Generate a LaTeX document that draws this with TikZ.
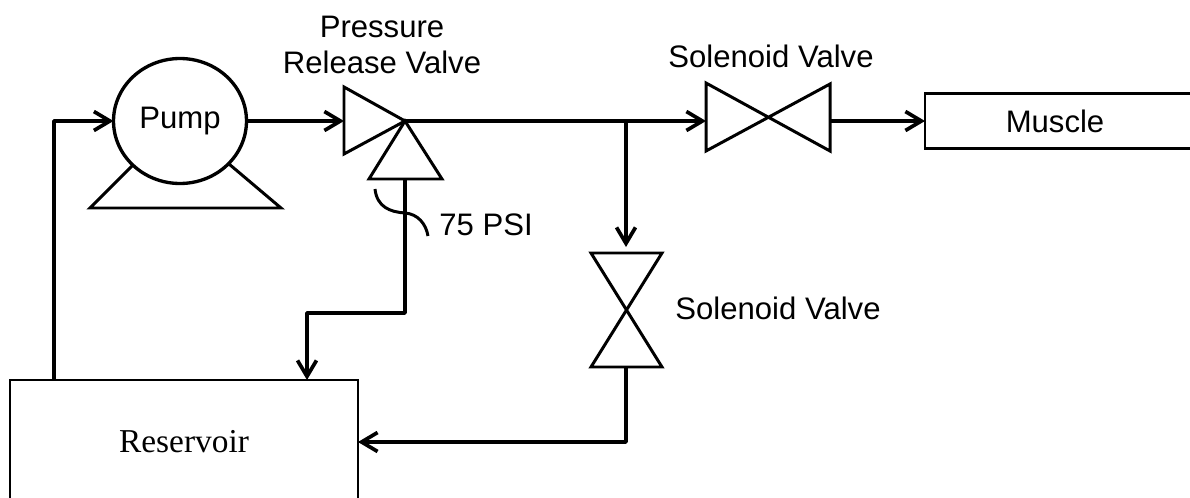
\documentclass[tikz,border=0pt]{standalone}
\usepackage{fontspec}
\setmainfont{Liberation Sans}
\newfontfamily\tankfont{Liberation Serif}
\usetikzlibrary{arrows.meta,shapes.geometric}
\tikzset{
    pipe/.style={line width=2.1pt,line join=round},
    flow/.style={pipe,-{Straight Barb[length=3.2mm,width=3.8mm]}},
    valve/.style={line width=1.7pt,line join=miter},
    tank/.style={draw,line width=1.5pt,inner sep=0pt,outer sep=0pt},
    lab/.style={font=\fontsize{17.7}{21}\selectfont,inner sep=0pt,align=center}
}

\begin{document}
\begin{tikzpicture}[x=0.02cm,y=-0.02cm]
    \useasboundingbox (0,0) rectangle (1190,497);
    % pump with its foot
    \node[draw,ellipse,line width=1.9pt,inner sep=0pt,outer sep=0pt,minimum width=2.66cm,minimum height=2.5cm,lab] (pump) at (180,121) {Pump};
    \draw[valve] (132,166) -- (90,208) -- (281,208) -- (229,164);
    % boxes
    \node[tank,minimum width=6.96cm,minimum height=2.48cm,font=\tankfont\fontsize{19}{22}\selectfont] (reservoir) at (184,442) {Reservoir};
    \node[tank,anchor=west,minimum width=6cm,minimum height=1.1cm] (muscle) at (925,121) {};
    \node[lab] (musclelab) at (1055,121) {Muscle};
    % pressure release valve
    \coordinate (relief) at (405,121);
    \coordinate (reliefin) at (344,121);
    \coordinate (reliefout) at (405,179);
    \draw[valve] (344,87) -- (344,154) -- (relief) -- cycle;
    \draw[valve] (369,179) -- (442,179) -- (relief) -- cycle;
    \draw[valve] (375,189) .. controls (377,207) and (390,212) .. (405,213) .. controls (418,214) and (426,224) .. (428,236);
    % solenoid valves
    \coordinate (upin) at (706,121);
    \coordinate (upout) at (830,121);
    \draw[valve] (706,83) -- (706,151) -- (830,84) -- (830,151) -- cycle;
    \coordinate (downin) at (626,253);
    \coordinate (downout) at (626,367);
    \draw[valve] (591,253) -- (662,253) -- (591,367) -- (662,367) -- cycle;
    % labels
    \node[lab] (relieflab) at (382,45) {Pressure\\Release Valve};
    \node[lab] (psilab) at (486,225) {75 PSI};
    \node[lab] (uplab) at (771,56) {Solenoid Valve};
    \node[lab] (downlab) at (778,308) {Solenoid Valve};
    % pipes
    \coordinate (back) at (54,121);
    \coordinate (tee) at (626,121);
    \coordinate (step) at (405,313);
    \coordinate (drop) at (307,313);
    \draw[flow] (back |- reservoir.north) -- (back) -- (pump.west);
    \draw[flow] (pump.east) -- (reliefin);
    \draw[pipe] (relief) -- (tee);
    \draw[flow] (tee) -- (upin);
    \draw[flow] (upout) -- (muscle.west);
    \draw[flow] (tee) -- ([yshift=0.12cm]downin);
    \draw[flow] (reliefout) -- (step) -- (drop) -- (drop |- reservoir.north);
    \draw[flow] (downout) |- (reservoir.east);
\end{tikzpicture}
\end{document}
